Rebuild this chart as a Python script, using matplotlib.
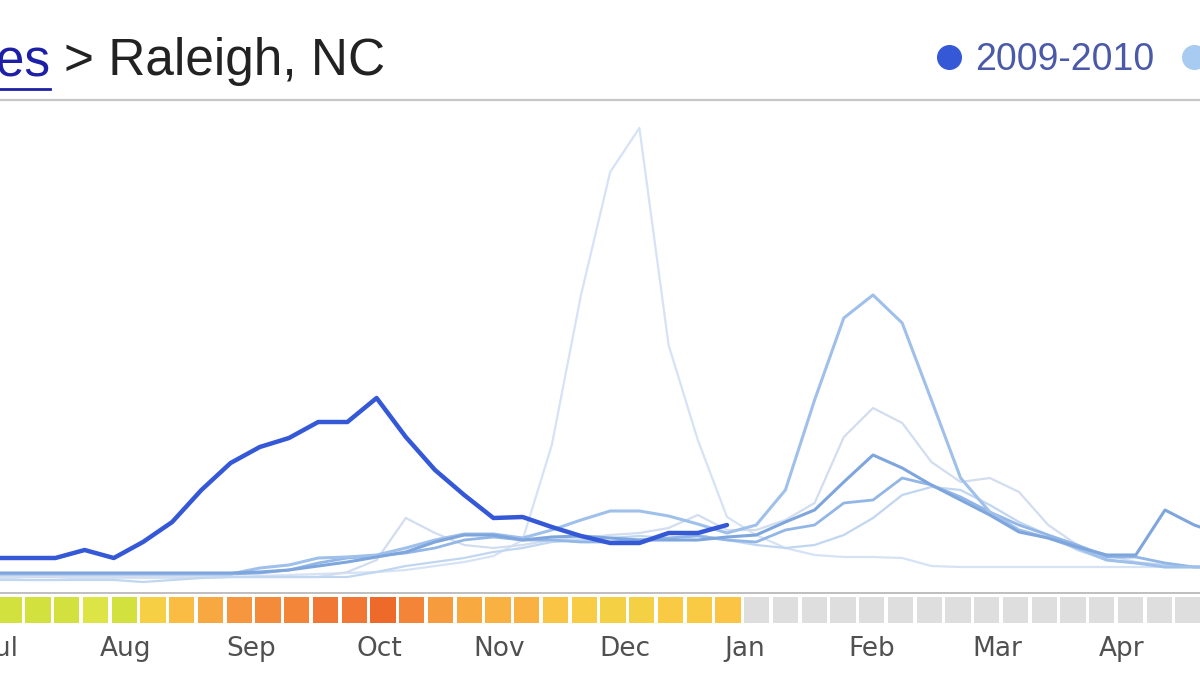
import numpy as np
import matplotlib
matplotlib.use("Agg")
import matplotlib.pyplot as plt
from matplotlib.colors import LinearSegmentedColormap
from matplotlib.lines import Line2D

# weekly flu activity estimates (arbitrary level units), one value per week from early July
s2009 = [3.2, 3.2, 3.2, 4.0, 3.2, 4.8, 6.8, 10.0, 12.7, 14.3, 15.2, 16.8, 16.8, 19.2,
         15.3, 12.0, 9.5, 7.2, 7.3, 6.3, 5.4, 4.7, 4.7, 5.7, 5.7, 6.5]

s2003 = [1.2, 1.0, 1.0, 1.2, 1.2, 1.2, 1.2, 1.2, 1.3, 1.4, 1.5, 1.6, 1.7, 1.8, 2.0,
         2.4, 2.8, 3.4, 5.0, 14.5, 29.5, 41.8, 46.2, 24.5, 15.0, 7.3, 5.5, 4.2, 3.5,
         3.3, 3.3, 3.2, 2.4, 2.3, 2.3, 2.3, 2.3, 2.3, 2.3, 2.3, 2.3, 2.3, 2.3]
s2004 = [1.3, 1.3, 1.3, 1.3, 1.3, 1.3, 1.3, 1.3, 1.3, 1.3, 1.3, 1.3, 1.8, 3.0, 7.2,
         5.7, 4.5, 4.2, 4.5, 5.0, 5.2, 5.5, 5.7, 6.2, 7.5, 6.0, 6.0, 7.0, 8.7, 15.3,
         18.2, 16.7, 12.8, 10.8, 11.2, 9.8, 6.5, 4.5, 3.5, 2.8, 2.5, 2.3, 2.3]
s2005 = [1.6, 1.6, 1.6, 1.6, 1.6, 1.6, 1.6, 1.6, 1.6, 1.7, 2.0, 2.7, 3.2, 3.4, 3.7,
         4.2, 5.0, 5.3, 5.0, 5.0, 4.8, 4.8, 5.0, 5.2, 5.4, 5.0, 4.8, 6.0, 6.5, 8.7,
         9.0, 11.2, 10.5, 9.3, 7.8, 6.5, 5.5, 4.5, 3.3, 3.3, 2.7, 2.3, 2.3]
s2006 = [1.0, 1.0, 1.0, 1.0, 1.0, 0.8, 1.0, 1.2, 1.3, 1.3, 1.3, 1.3, 1.3, 1.8, 2.4,
         2.8, 3.2, 3.8, 4.2, 4.8, 5.0, 5.2, 5.4, 5.2, 5.5, 5.0, 4.5, 4.2, 4.5, 5.5,
         7.2, 9.5, 10.3, 10.0, 8.5, 6.8, 5.5, 4.0, 3.0, 2.7, 2.5, 2.3, 2.3]
s2007 = [1.6, 1.6, 1.6, 1.6, 1.6, 1.6, 1.6, 1.6, 1.6, 2.2, 2.5, 3.2, 3.3, 3.5, 4.2,
         5.0, 5.6, 5.6, 5.2, 6.0, 7.0, 7.9, 7.9, 7.4, 6.6, 5.7, 6.5, 10.0, 19.0, 27.2,
         29.5, 26.7, 19.0, 11.2, 7.8, 6.0, 5.2, 4.2, 3.0, 2.7, 2.3, 2.3, 2.3]
s2008 = [1.7, 1.7, 1.7, 1.7, 1.7, 1.7, 1.7, 1.7, 1.7, 1.8, 2.0, 2.4, 2.8, 3.3, 3.8,
         4.8, 5.5, 5.5, 5.0, 5.3, 5.4, 5.2, 5.0, 5.0, 5.0, 5.3, 5.5, 6.8, 8.0, 10.8,
         13.5, 12.2, 10.5, 9.0, 7.5, 5.8, 5.2, 4.3, 3.5, 3.5, 8.0, 6.5, 5.5]

months = ["Jul", "Aug", "Sep", "Oct", "Nov", "Dec", "Jan", "Feb", "Mar", "Apr"]
n_cells = 42

# older seasons drawn faint, back to front
past = [
    (s2003, "#d6e2f5", 1.6),
    (s2004, "#d2ddef", 1.6),
    (s2006, "#c0d6f1", 1.6),
    (s2005, "#92b6e6", 2.0),
    (s2007, "#9fc0ea", 2.2),
    (s2008, "#7ea6dd", 2.2),
]
dark = "#3558d6"

plt.rcParams["font.family"] = ["Liberation Sans", "DejaVu Sans"]
fig = plt.figure(figsize=(12, 6.75), dpi=100)

# main line chart
ax = fig.add_axes([0, 1 - 593 / 675, 1, (593 - 100) / 675])
for vals, col, lw in past:
    ax.plot(np.arange(len(vals)), vals, color=col, lw=lw, solid_joinstyle="round")
ax.plot(np.arange(len(s2009)), s2009, color=dark, lw=3.2,
        solid_joinstyle="round", solid_capstyle="round", zorder=5)
ax.set_xlim(3 / 29.2, 1203 / 29.2)
ax.set_ylim(-0.3, 49.0)
ax.set_xticks([])
ax.set_yticks([])
for side in ["left", "right"]:
    ax.spines[side].set_visible(False)
ax.spines["top"].set_color("#c6c6c6")
ax.spines["top"].set_linewidth(1.6)
ax.spines["bottom"].set_color("#b4b4b4")
ax.spines["bottom"].set_linewidth(1.2)

# weekly intensity strip
cmap = LinearSegmentedColormap.from_list("flu", [
    (0.0, "#cfe03c"), (0.06, "#dce446"), (0.105, "#f6d044"), (0.216, "#fbc444"),
    (0.26, "#f9b242"), (0.432, "#f8a840"), (0.586, "#f6983e"), (0.71, "#f48a3a"),
    (0.852, "#f07834"), (1.0, "#ee6a2a")])
lvl = np.array(s2009)
cell_colors = [cmap((v - 3.0) / (19.2 - 3.0)) for v in lvl]
cell_colors += ["#dedede"] * (n_cells - len(lvl))

sx = fig.add_axes([0, 1 - 623 / 675, 1, 26 / 675])
sx.bar(np.arange(n_cells), 1, width=0.87, color=cell_colors, align="center")
sx.set_xlim(-9.25 / 28.75, (1200 - 9.25) / 28.75)
sx.set_ylim(0, 1)
month_pos = [-0.25, 4.06, 8.41, 12.86, 17.03, 21.42, 25.59, 30.01, 34.36, 38.7]
sx.set_xticks(month_pos)
sx.set_xticklabels(months, fontsize=19, color="#505050", family="DejaVu Sans")
sx.tick_params(axis="x", length=0, pad=9)
sx.set_yticks([])
for s in sx.spines.values():
    s.set_visible(False)

# breadcrumb title
fig.text(50 / 1200, 1 - 75 / 675, "United States", ha="right", va="baseline",
         fontsize=37, color="#1d20a6")
fig.add_artist(Line2D([0, 50 / 1200], [1 - 89 / 675] * 2, transform=fig.transFigure,
                      color="#1d20a6", lw=2))
fig.text(64 / 1200, 1 - 75 / 675, "> Raleigh, NC", ha="left", va="baseline",
         fontsize=37, color="#222222")

# legend
handles = [Line2D([], [], ls="", marker="o", ms=17, color=dark),
           Line2D([], [], ls="", marker="o", ms=17, color="#a8cbf1")]
fig.legend(handles, ["2009-2010", "2008-2009"], loc="center left",
           bbox_to_anchor=(930 / 1200, 1 - 60 / 675), ncol=2, frameon=False,
           fontsize=27, handlelength=1.0, handletextpad=0.2, columnspacing=0.56,
           borderpad=0, borderaxespad=0, labelcolor="#4b5aa8")

fig.savefig("out.png", dpi=100)
